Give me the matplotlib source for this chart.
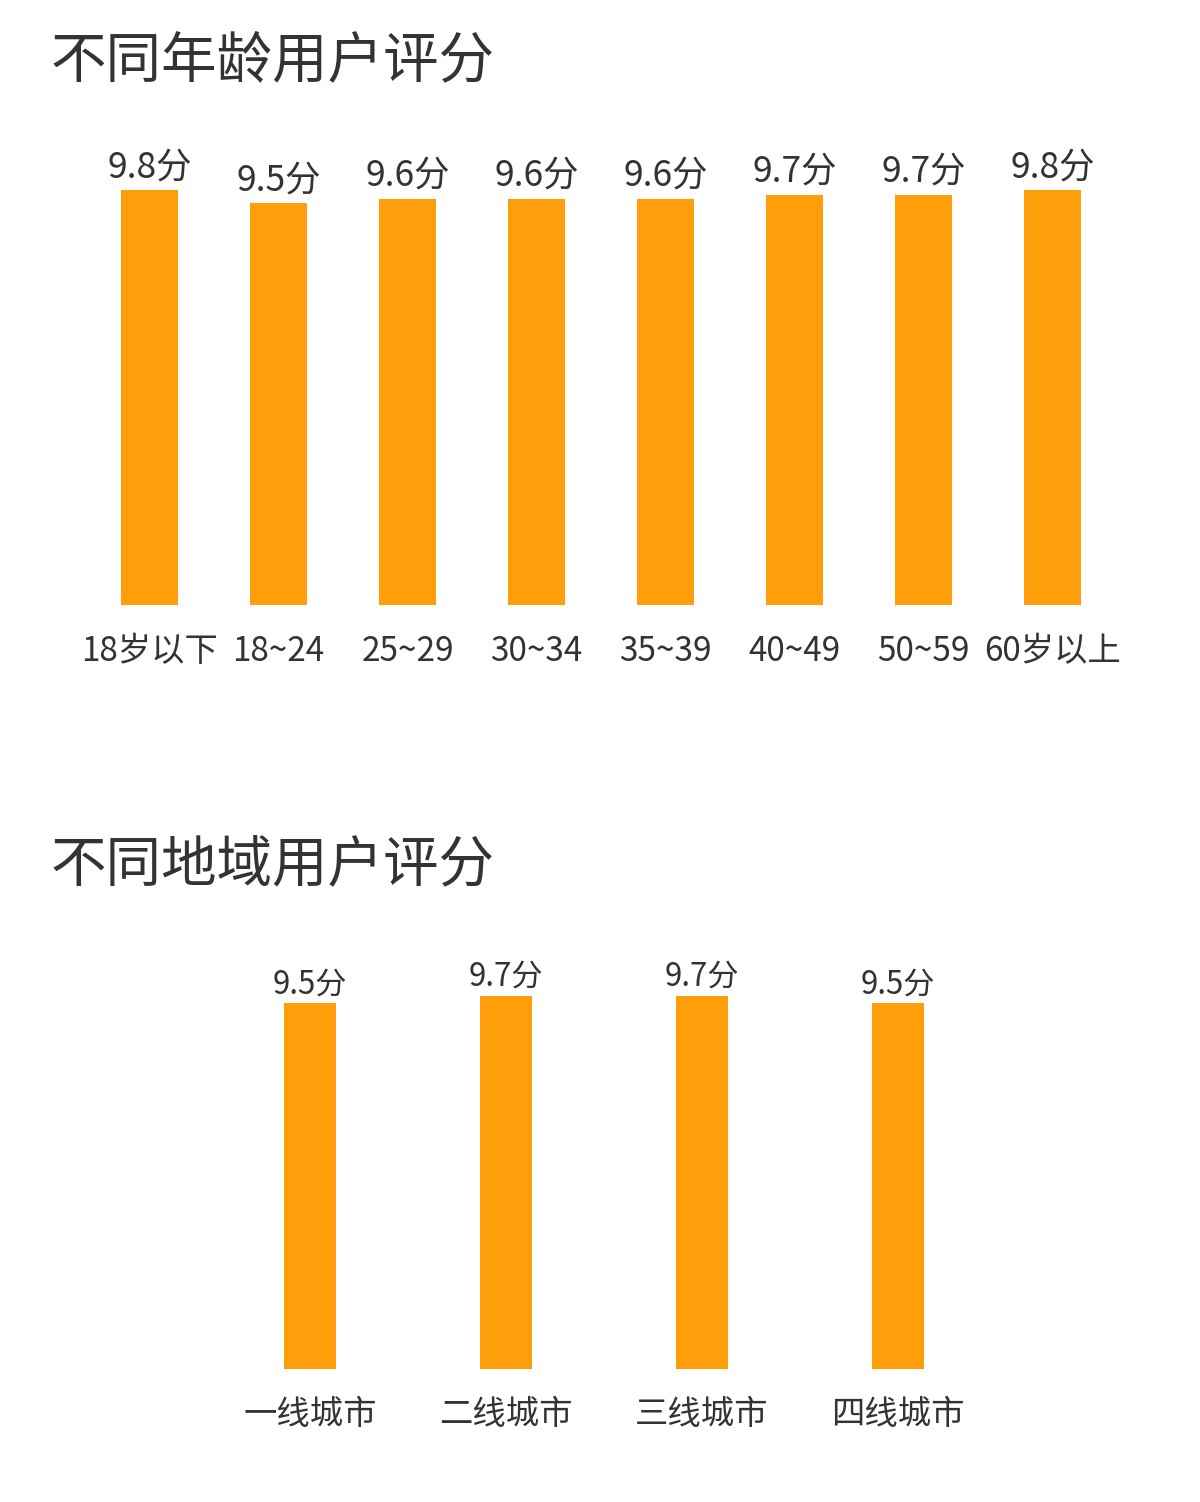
import matplotlib
matplotlib.use("Agg")
import matplotlib.pyplot as plt

plt.rcParams['font.family'] = ['Noto Sans CJK SC', 'DejaVu Sans']

# 数据
age_groups = ["18岁以下", "18~24", "25~29", "30~34", "35~39", "40~49", "50~59", "60岁以上"]
age_scores = [9.8, 9.5, 9.6, 9.6, 9.6, 9.7, 9.7, 9.8]

city_tiers = ["一线城市", "二线城市", "三线城市", "四线城市"]
city_scores = [9.5, 9.7, 9.7, 9.5]

bar_color = "#FF9E0B"
text_color = "#333333"

W, H = 1200, 1502
fig = plt.figure(figsize=(W / 100, H / 100), dpi=100)

# 像素 -> 图坐标
def box(left, top, width, height):
    return [left / W, (H - top - height) / H, width / W, height / H]

fig.text(51 / W, 1 - 61 / H, "不同年龄用户评分", fontsize=40, color=text_color, va="center", ha="left")
fig.text(51 / W, 1 - 865 / H, "不同地域用户评分", fontsize=40, color=text_color, va="center", ha="left")

def draw(ax, cats, vals, bw, val_fs, off, tick_fs, tick_pad):
    x = range(len(cats))
    ax.bar(x, vals, width=bw, color=bar_color)
    for i, v in zip(x, vals):
        ax.text(i, v + off, f"{v}分", ha="center", va="bottom", fontsize=val_fs, color=text_color)
    ax.set_xlim(-0.5, len(cats) - 0.5)
    ax.set_ylim(0, 10)
    ax.set_xticks(list(x))
    ax.set_xticklabels(cats, fontsize=tick_fs, color=text_color)
    ax.tick_params(axis="x", length=0, pad=tick_pad)
    ax.set_yticks([])
    for s in ax.spines.values():
        s.set_visible(False)

# 年龄
ax1 = fig.add_axes(box(85, 605 - 423, 1032, 423))
draw(ax1, age_groups, age_scores, 57 / 129, 25.5, 0.12, 24, 21)

# 地域
ax2 = fig.add_axes(box(212, 1369 - 385, 784, 385))
draw(ax2, city_tiers, city_scores, 52 / 196, 22.5, 0.08, 24, 20)

fig.savefig("out.png", dpi=100, facecolor="white")
